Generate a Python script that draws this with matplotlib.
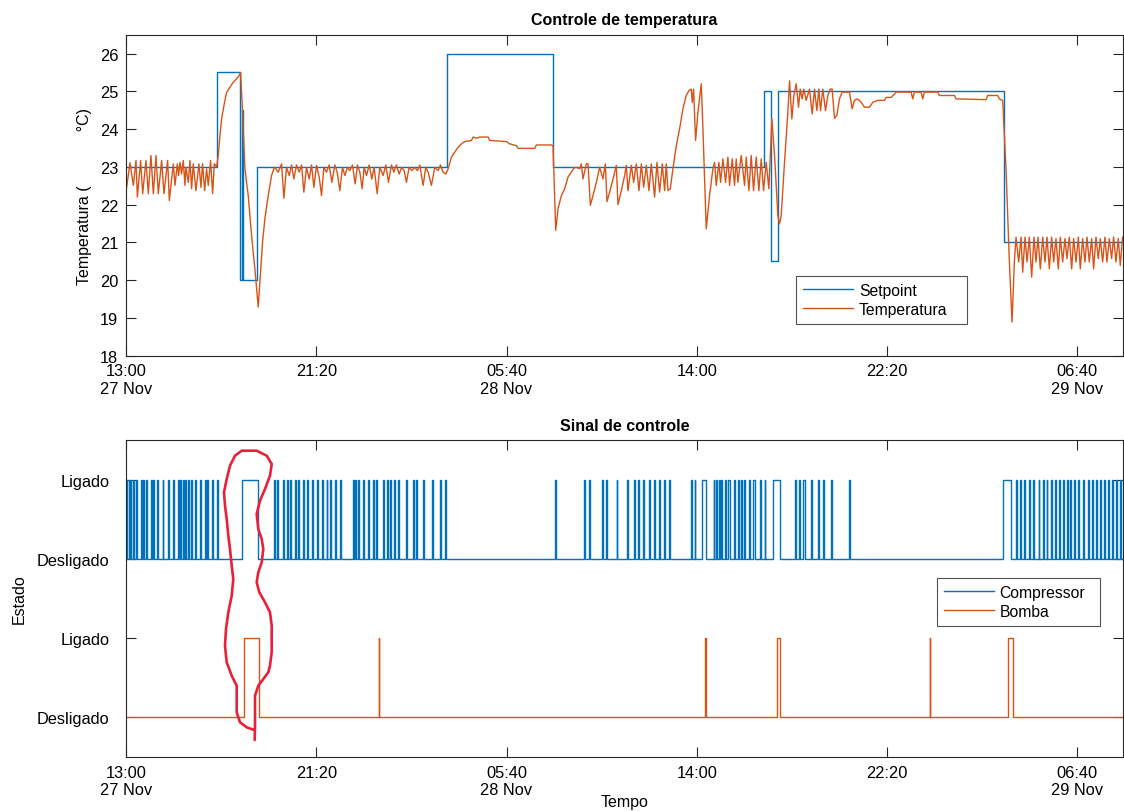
import matplotlib
matplotlib.use("Agg")
import matplotlib.pyplot as plt
from matplotlib.lines import Line2D

plt.rcParams['font.family'] = ['Liberation Sans', 'DejaVu Sans']

# ---------------- data (time in minutes from 27 Nov 13:00) ----------------
setpoint_t = [0, 239, 299.4, 306, 307.5, 344, 843, 1121, 1677, 1695.5, 1713, 2306.5, 2620]
setpoint_v = [23, 25.5, 20, 24.5, 20, 23, 26, 23, 25, 20.5, 25, 21, 21]

temp_t = [0, 10.5, 19.3, 26.3, 29.8, 38.5, 43.8, 52.5, 58.6, 65.6, 71.8, 78.8, 84.9, 93.6, 99.8,
          109.4, 113.8, 124.3, 128.7, 134.8, 138.3, 141.8, 146.2, 150.5, 154.9, 157.5, 163.7, 168.1,
          172.4, 176.8, 183.8, 191.7, 196.9, 201.3, 206.6, 211.8, 216.2, 222.3, 227.6, 232.0, 238.1,
          242.5, 246.8, 251.2, 257.3, 264.3, 273.1, 281.8, 290.6, 297.6, 301.1, 306.3, 312.5, 321.2,
          330.0, 338.7, 347.5, 351.9, 358.9, 365.0, 373.8, 382.5, 388.6,
          391.3, 400.0, 408.8, 414.9, 421.9, 428.9, 435.0, 441.1, 448.2, 455.2, 461.3, 467.4, 474.4,
          481.4, 487.5, 493.7, 500.7, 507.7, 513.8, 519.9, 526.9, 533.9, 540.9, 548.8, 554.9, 561.9,
          568.9, 575.1, 582.1, 588.2, 595.2, 602.2, 608.3, 614.5, 620.6, 625.8, 632.0, 639.0, 646.0,
          652.1, 660.0, 667.0, 675.7, 682.7, 689.7, 697.6, 703.7, 710.7, 717.7, 724.7, 730.9, 737.0,
          744.0, 751.0, 758.9, 765.9, 772.0, 780.8, 787.8, 793.9, 802.7, 811.4, 820.2, 826.3, 833.3,
          840.3,
          846.5, 855.2, 864.0, 872.7, 881.5, 890.2, 907.8, 912.1, 920.9, 929.6, 951.5, 955.9, 999.7,
          1008.4, 1025.9, 1030.3, 1074.1, 1078.4, 1117.8, 1122.2, 1129.2,
          1135.3, 1144.1, 1152.8, 1161.6, 1170.3, 1177.3, 1183.5, 1192.2, 1196.6, 1201.0, 1209.7,
          1214.1, 1220.2, 1227.2, 1236.0, 1244.7, 1253.5, 1259.6, 1264.0, 1271.0, 1279.8, 1288.5,
          1292.9, 1301.6, 1310.4, 1314.8, 1319.1, 1327.9, 1334.0, 1341.0, 1348.0, 1354.2, 1360.3,
          1367.3, 1374.3, 1380.4, 1389.2, 1395.3, 1402.3, 1409.3, 1415.4, 1419.8, 1424.2, 1430.3,
          1437.3, 1446.1, 1454.8, 1463.6, 1472.3, 1479.3, 1485.5, 1488.1, 1491.6, 1496.8, 1503.0,
          1511.7, 1516.1, 1524.8, 1533.6, 1542.3, 1546.7, 1551.1, 1558.1, 1562.5, 1568.6, 1575.6,
          1581.7, 1586.1, 1593.1, 1599.2, 1603.6, 1608.0, 1616.7, 1625.5, 1629.9, 1636.9, 1643.0,
          1649.1, 1656.1, 1663.1, 1669.3, 1675.4,
          1682.4, 1689.4, 1697.3, 1704.3, 1713.0, 1717.4, 1721.8, 1730.5, 1739.3, 1743.7, 1749.8,
          1755.1, 1761.2, 1767.3, 1771.7, 1776.9, 1781.3, 1787.4, 1796.2, 1803.2, 1809.3, 1815.5,
          1820.7, 1825.1, 1831.2, 1838.2, 1844.3, 1850.5, 1855.7, 1861.8, 1868.0, 1874.9, 1882.0,
          1890.7, 1901.2, 1908.2, 1914.4, 1920.5, 1927.5, 1931.9, 1940.6, 1953.7, 1962.5, 1975.6,
          1993.1, 1997.5, 2010.6, 2019.4, 2023.8, 2063.2, 2067.5, 2071.9, 2089.4, 2093.8, 2098.2,
          2133.2, 2137.6, 2177.0, 2181.3, 2260.1, 2264.5, 2290.7, 2295.1, 2303.9, 2312.6, 2321.4,
          2328.4, 2334.5,
          2338.9, 2345.9, 2352.0, 2356.4, 2362.5, 2367.8, 2373.9, 2380.0, 2386.1, 2391.4, 2396.6,
          2402.8, 2408.9, 2415.0, 2420.3, 2426.4, 2432.5, 2437.8, 2443.9, 2450.0, 2455.3, 2461.4,
          2467.6, 2472.8, 2478.9, 2485.1, 2490.3, 2496.4, 2502.6, 2507.8, 2513.9, 2520.1, 2525.3,
          2531.4, 2537.6, 2542.8, 2549.0, 2555.1, 2560.3, 2566.5, 2572.6, 2577.8, 2584.0, 2590.1,
          2595.3, 2601.5, 2607.6, 2612.8, 2619.0]
temp_v = [22.33, 23.11, 22.51, 23.17, 22.20, 23.17, 22.29, 23.17, 22.29, 23.30, 22.29, 23.30, 22.29, 23.17, 22.29,
          23.17, 22.11, 23.08, 22.51, 23.08, 22.77, 23.12, 22.81, 23.17, 22.51, 22.99, 22.59, 23.17,
          22.42, 23.08, 22.37, 23.08, 22.46, 23.08, 22.37, 22.95, 22.51, 23.17, 22.29, 23.08, 23.00,
          23.30, 23.83, 24.27, 24.62, 24.97, 25.11, 25.24, 25.33, 25.42, 25.50, 24.45, 22.95, 22.24,
          21.18, 20.30, 19.29, 19.95, 21.01, 21.63, 22.24, 22.77, 22.95,
          22.99, 22.86, 23.08, 22.17, 22.99, 22.77, 23.05, 22.68, 23.05, 22.86, 23.05, 22.33, 22.99,
          22.68, 23.05, 22.46, 23.04, 22.73, 22.24, 22.99, 22.86, 23.05, 22.59, 23.05, 22.86, 22.37,
          22.99, 22.77, 22.99, 22.90, 23.05, 22.55, 23.05, 22.86, 22.42, 22.99, 22.77, 23.05, 22.68,
          22.99, 22.29, 22.99, 22.77, 23.05, 22.59, 23.05, 22.86, 23.05, 22.81, 22.99, 22.90, 22.59,
          22.99, 22.90, 22.99, 22.90, 23.05, 22.51, 22.99, 22.86, 22.51, 22.99, 22.90, 23.05, 22.86,
          22.81,
          22.95, 23.26, 23.39, 23.52, 23.61, 23.67, 23.70, 23.79, 23.76, 23.79, 23.79, 23.70, 23.67,
          23.61, 23.56, 23.49, 23.49, 23.58, 23.58, 23.56, 21.32,
          21.89, 22.24, 22.42, 22.73, 22.86, 22.97, 22.99, 22.95, 23.08, 22.68, 23.08,
          23.08, 21.98, 22.24, 22.59, 22.99, 22.68, 23.08, 22.08, 22.33, 22.68, 23.04,
          22.00, 22.37, 22.77, 23.04, 22.37, 23.04, 22.59, 23.08, 22.37, 23.08, 22.46,
          23.04, 22.37, 23.08, 22.20, 23.12, 22.33, 23.08, 22.37, 23.08, 22.37, 22.42,
          22.95, 23.56, 24.01, 24.54, 24.89, 25.02, 25.06, 24.71, 25.06, 23.70, 24.45,
          25.20, 24.01, 21.36, 22.24, 22.95, 23.12, 22.51, 23.12, 22.59, 23.21, 22.59,
          23.26, 22.51, 23.21, 22.51, 23.21, 22.59, 23.30, 22.51, 23.26, 22.37, 23.30,
          22.37, 23.26, 22.37, 23.21, 22.37,
          23.12, 22.42, 24.27, 23.30, 21.71, 21.49, 21.71, 23.12, 24.45, 25.28, 24.27,
          24.89, 25.20, 24.58, 25.06, 24.80, 25.06, 24.76, 25.06, 24.40, 25.06, 24.49,
          25.06, 24.49, 25.06, 24.49, 24.89, 25.06, 25.06, 24.29, 24.36, 24.80, 24.98,
          24.98, 24.98, 24.54, 24.76, 24.80, 24.76, 24.71, 24.58, 24.58, 24.71, 24.76,
          24.76, 24.84, 24.84, 24.93, 24.98, 24.98, 24.80, 24.98, 24.98, 24.80, 24.98,
          24.98, 24.89, 24.89, 24.80, 24.78, 24.89, 24.89, 24.80, 24.76, 22.95, 20.48,
          18.89, 20.48,
          21.14, 20.48, 21.14, 20.21, 21.14, 20.48, 21.14, 20.08, 21.14, 20.48, 21.14,
          20.30, 21.14, 20.48, 21.14, 20.30, 21.14, 20.48, 21.10, 20.30, 21.14, 20.48,
          21.10, 20.57, 21.14, 20.30, 21.10, 20.48, 21.14, 20.30, 21.10, 20.48, 21.14,
          20.48, 21.10, 20.30, 21.14, 20.57, 21.10, 20.48, 21.14, 20.48, 21.10, 20.57,
          21.14, 20.48, 21.10, 20.39, 21.14]

# compressor ON intervals (start, end) in minutes
comp_on = [(2, 8), (10, 12.5), (18, 20.5), (26, 28.5), (39, 41.5), (45, 47.5), (52, 54.5),
           (65, 67.5), (72, 74.5), (81, 83.5), (96, 98.5), (111, 113.5), (124, 126.5),
           (137, 139.5), (142, 144.5), (149, 151.5), (155, 157.5), (164, 166.5), (170, 172.5),
           (181, 183.5), (194, 196.5), (207, 209.5), (213, 215.5), (225, 227.5), (238, 240.5),
           (305, 347), (389, 391.5), (396, 398.5), (413, 415.5), (422, 424.5), (432, 434.5),
           (444, 446.5), (452, 454.5), (466, 468.5), (476, 478.5), (490, 492.5), (501, 503.5),
           (514, 516.5), (527, 529.5), (536, 538.5), (549, 551.5), (562, 564.5), (597, 599.5),
           (601, 603.5), (610, 612.5), (623, 625.5), (636, 638.5), (649, 651.5), (658, 660.5),
           (676, 678.5), (685, 687.5), (695, 697.5), (704, 706.5), (715, 717.5), (737, 739.5),
           (754, 756.5), (763, 765.5), (781, 783.5), (803, 805.5), (825, 827.5), (838, 840.5),
           (1127, 1129.5), (1203, 1205.5), (1218, 1220.5), (1250, 1252.5), (1262, 1264.5),
           (1289, 1291.5), (1316, 1318.5), (1334, 1336.5), (1345, 1347.5), (1358, 1360.5),
           (1374, 1376.5), (1387, 1389.5), (1400, 1402.5), (1415, 1417.5), (1427, 1429.5),
           (1486, 1488.5), (1494, 1496.5), (1513, 1524.5), (1544, 1546.5), (1551, 1553.5),
           (1558, 1560.5), (1564, 1566.5), (1573, 1575.5), (1582, 1586.5), (1597, 1599.5),
           (1608, 1610.5), (1617, 1619.5), (1623, 1625.5), (1637, 1639.5), (1647, 1654),
           (1665, 1667.5), (1678, 1680.5), (1700, 1717.5), (1759, 1761.5), (1768, 1770.5),
           (1780, 1785.5), (1801, 1803.5), (1818, 1820.5), (1831, 1833.5), (1853, 1855.5),
           (1901, 1903.5), (2304, 2326), (2339, 2341.5), (2350, 2352.5), (2361, 2363.5),
           (2374, 2376.5), (2384, 2386.5), (2398, 2400.5), (2409, 2411.5), (2419, 2421.5),
           (2431, 2433.5), (2441, 2443.5), (2453, 2455.5), (2463, 2465.5), (2472, 2474.5),
           (2481, 2483.5), (2492, 2494.5), (2503, 2505.5), (2516, 2518.5), (2527, 2529.5),
           (2538, 2540.5), (2549, 2551.5), (2560, 2562.5), (2571, 2573.5), (2580, 2582.5),
           (2590, 2592.5), (2602, 2604.5), (2612, 2614.5)]
# pump ON intervals
bomba_on = [(310.7, 350.1), (664, 665), (1520.4, 1524.8), (1710.4, 1719.3),
            (2113, 2114), (2318.8, 2332)]

t_end = 2620
xtick_pos = [0, 500, 1000, 1500, 2000, 2500]
xtick_lab = ['13:00\n27 Nov', '21:20', '05:40\n28 Nov', '14:00', '22:20', '06:40\n29 Nov']
state_ticks = [0, 1, 2, 3]
state_labels = ['Desligado', 'Ligado', 'Desligado', 'Ligado']


def to_steps(intervals, offset):
    xs, ys = [0], [offset]
    for s, e in intervals:
        xs += [s, e]
        ys += [offset + 1, offset]
    xs.append(t_end)
    ys.append(offset)
    return xs, ys


BLUE = '#0072BD'
ORANGE = '#D95319'
DARK = '#262626'
FS_TICK = 11.8
FS_LEG = 11.3
FS_LAB = 11.5

fig = plt.figure(figsize=(11.24, 8.12), dpi=100)
ax1 = fig.add_axes([126 / 1124, 1 - 356.7 / 812, 997 / 1124, 321 / 812])
ax2 = fig.add_axes([126 / 1124, 1 - 758 / 812, 997 / 1124, 317 / 812])

ax1.plot(setpoint_t, setpoint_v, drawstyle='steps-post', color=BLUE, lw=1.0, label='Setpoint')
ax1.plot(temp_t, temp_v, color=ORANGE, lw=1.0, label='Temperatura')
ax1.set_ylim(18, 26.5)
ax1.set_yticks(range(18, 27))
ax1.set_title('Controle de temperatura', fontweight='bold', fontsize=11.5, pad=7.5)
ax1.set_ylabel('Temperatura (' + ' ' * 12 + '°C)', fontsize=FS_LAB, labelpad=6)
leg1 = ax1.legend(loc='lower left', bbox_to_anchor=(0.672, 0.099, 0.1715, 0.14), mode='expand',
                  fontsize=FS_LEG, frameon=True, fancybox=False, edgecolor=DARK,
                  handlelength=3.2, handletextpad=0.35, labelspacing=0.25, borderpad=0.45,
                  borderaxespad=0)
leg1.get_frame().set_linewidth(0.8)

cx, cy = to_steps(comp_on, 2)
bx, by = to_steps(bomba_on, 0)
ax2.plot(cx, cy, drawstyle='steps-post', color=BLUE, lw=1.0, label='Compressor')
ax2.plot(bx, by, drawstyle='steps-post', color=ORANGE, lw=1.0, label='Bomba')
ax2.set_ylim(-0.5, 3.5)
ax2.set_yticks(state_ticks)
ax2.set_yticklabels(state_labels)
ax2.set_title('Sinal de controle', fontweight='bold', fontsize=11.5, pad=7)
ax2.set_ylabel('Estado', fontsize=FS_LAB, labelpad=7)
ax2.set_xlabel('Tempo', fontsize=FS_LAB, labelpad=-2.5)
leg2 = ax2.legend(loc='lower left', bbox_to_anchor=(0.813, 0.414, 0.1638, 0.14), mode='expand',
                  fontsize=FS_LEG, frameon=True, fancybox=False, edgecolor=DARK,
                  handlelength=3.2, handletextpad=0.35, labelspacing=0.25, borderpad=0.45,
                  borderaxespad=0)
leg2.get_frame().set_linewidth(0.8)

for ax in (ax1, ax2):
    ax.set_xlim(0, t_end)
    ax.set_xticks(xtick_pos)
    ax.set_xticklabels(xtick_lab)
    ax.tick_params(direction='in', length=7, width=0.8, top=True, right=True,
                   colors=DARK, labelcolor='black', labelsize=FS_TICK)
    ax.tick_params(axis='x', pad=5.5)
    for sp in ax.spines.values():
        sp.set_color(DARK)
        sp.set_linewidth(0.8)
ax1.tick_params(axis='y', pad=5.5)
ax2.tick_params(axis='y', pad=12)

# hand-drawn red annotation loop (figure pixel coordinates)
loop_px = [(253.3, 730.7), (246.7, 728.3), (240, 723.3), (236.7, 713.3), (236.7, 700),
           (236.7, 686.7), (231.7, 676.7), (226.7, 663.3), (225, 646.7), (226, 630),
           (228.3, 613.3), (231.7, 596.7), (233.3, 580), (231.7, 566.7), (230, 550),
           (228.3, 536.7), (226.7, 520), (225, 506.7), (224, 493.3), (226.7, 480),
           (230, 466.7), (235, 456.7), (241.7, 451.7), (256.7, 451.7), (266.7, 456.7),
           (271.7, 465), (270, 476.7), (265, 490), (260, 501.7), (256.7, 515), (258.3, 530),
           (261.7, 540), (263.3, 550), (261.7, 563.3), (258.3, 573.3), (256.7, 583.3),
           (259.3, 593.3), (265, 603.3), (270, 613.3), (271.7, 626.7), (271.7, 640),
           (271.7, 653.3), (270, 666.7), (268.3, 673.3), (263.3, 680), (258.3, 686.7),
           (255, 696.7), (255, 710), (255, 726.7), (254.7, 741)]
fx = [p[0] / 1124 for p in loop_px]
fy = [1 - p[1] / 812 for p in loop_px]
fig.add_artist(Line2D(fx, fy, transform=fig.transFigure, color='#E8203A', lw=1.9,
                      solid_capstyle='round', solid_joinstyle='round'))

fig.savefig('out.png', dpi=100)
